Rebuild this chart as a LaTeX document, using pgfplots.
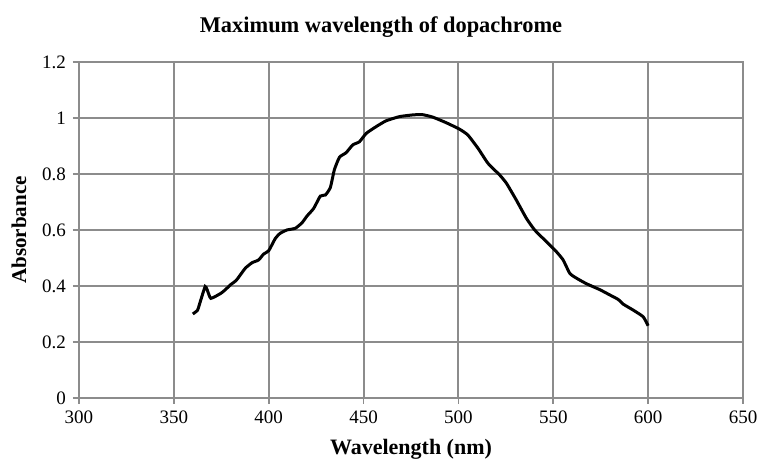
\documentclass[border=0pt]{standalone}
\usepackage{fontspec}
\setmainfont{Liberation Serif}
\usepackage{pgfplots}
\pgfplotsset{compat=1.18}
\definecolor{gridgray}{HTML}{8C8C8C}

\begin{document}
\begin{tikzpicture}
\begin{axis}[
  scale only axis,
  width=332pt,
  height=168pt,
  xmin=300, xmax=650,
  ymin=0, ymax=1.2,
  xtick={300,350,...,650},
  ytick={0,0.2,0.4,0.6,0.8,1,1.2},
  grid=major,
  major grid style={gridgray, line width=1pt},
  axis line style={gridgray, line width=1pt},
  tick style={gridgray, line width=0.8pt},
  tick align=outside,
  major tick length=3pt,
  xtick pos=bottom,
  ytick pos=left,
  /pgf/number format/assume math mode=true,
  tick label style={font=\fontsize{9.5}{11}\selectfont, black},
  xlabel={\textbf{Wavelength (nm)}},
  ylabel={\textbf{Absorbance}},
  xlabel style={font=\fontsize{11}{13}\selectfont, yshift=-1pt},
  ylabel style={font=\fontsize{10.5}{12}\selectfont, yshift=1pt},
  title={\textbf{Maximum wavelength of dopachrome}},
  title style={font=\fontsize{11.2}{13}\selectfont, yshift=2.5pt, xshift=-15pt},
]
\addplot[black, line width=1.5pt, smooth, tension=0.3] coordinates {
  (360,0.300) (362.5,0.314) (364.2,0.350) (366.5,0.398) (367.6,0.386)
  (369.5,0.356) (374.8,0.374) (377,0.386) (380,0.405) (383,0.421)
  (387.6,0.463) (391.2,0.483) (394.7,0.493) (397.3,0.514) (400,0.526)
  (403.5,0.570) (406,0.588) (409.6,0.600) (414,0.606) (417.6,0.626)
  (420.2,0.650) (423.7,0.677) (427.2,0.721) (429.9,0.725) (432.5,0.752)
  (434.6,0.815) (437.3,0.860) (440.8,0.876) (444.3,0.904) (447.8,0.915)
  (451.4,0.945) (456.6,0.969) (461.9,0.990) (469,1.005) (476,1.011)
  (481,1.012) (486.5,1.003) (493.6,0.983) (500.6,0.960) (505,0.939)
  (510.3,0.892) (515.6,0.838) (521.8,0.796) (525.3,0.767) (530.5,0.707)
  (535.8,0.642) (540.2,0.600) (546.4,0.558) (551.7,0.522) (555.2,0.493)
  (558.7,0.445) (562.2,0.428) (567.5,0.408) (574.5,0.387) (579.8,0.368)
  (584.2,0.352) (586.9,0.335) (592.1,0.314) (597.4,0.290) (600,0.258)
};
\end{axis}
\pgfresetboundingbox
\path ([shift={(-39.5pt,-33pt)}]current axis.south west) rectangle ([shift={(8.5pt,31pt)}]current axis.north east);
\end{tikzpicture}
\end{document}
